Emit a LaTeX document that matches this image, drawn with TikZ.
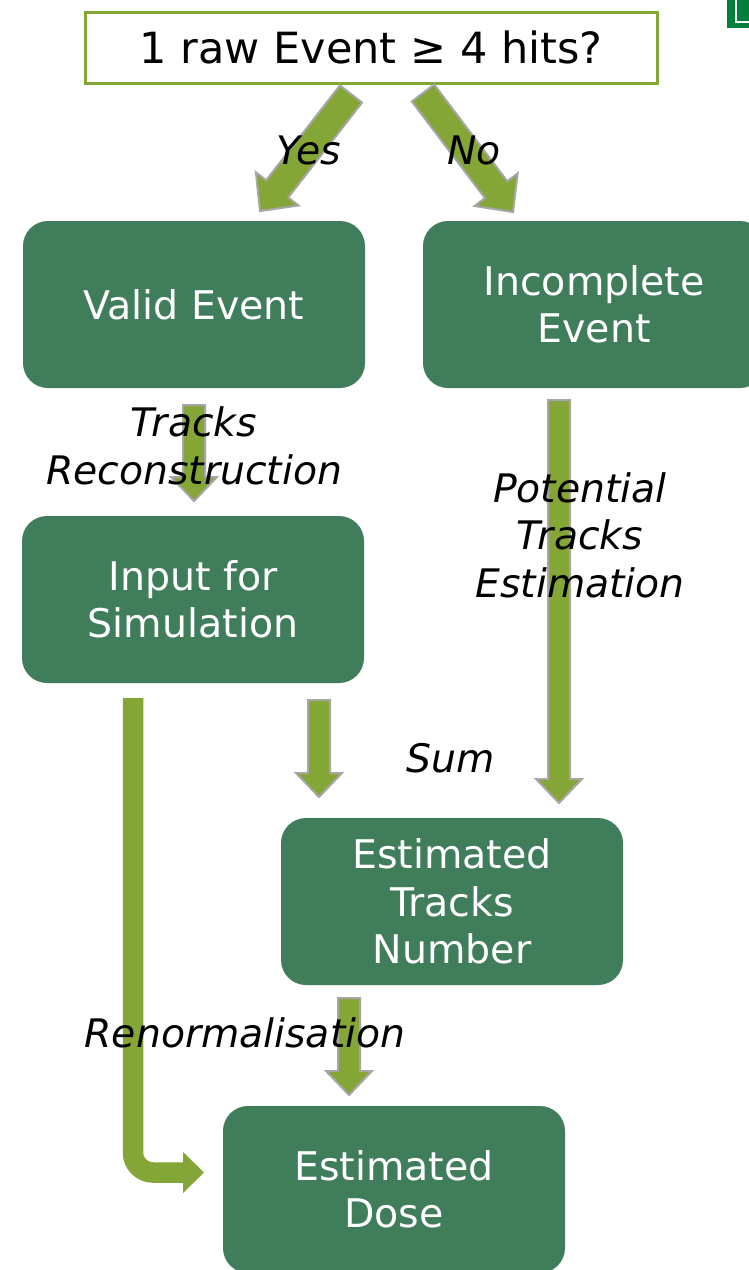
\documentclass[tikz,border=0pt]{standalone}
\usepackage{fontspec}
\setmainfont{DejaVu Sans}
\usetikzlibrary{calc}
\definecolor{boxgreen}{RGB}{64,125,90}
\definecolor{olive}{RGB}{132,166,55}
\definecolor{arrowgray}{RGB}{166,166,166}
\definecolor{logogreen}{RGB}{0,128,60}
\tikzset{
  box/.style={fill=boxgreen, rounded corners=25pt, minimum width=342pt, minimum height=167pt,
    text=white, align=center, inner sep=0pt, font=\fontsize{39.5}{47.5}\selectfont},
  topbox/.style={fill=white, draw=olive, line width=3pt, minimum width=572pt, minimum height=71pt,
    inner sep=0pt, font=\fontsize{43}{50}\selectfont},
  lbl/.style={align=center, inner sep=0pt, font=\fontsize{39.3}{47.5}\selectfont\itshape},
  blk/.style={fill=olive, draw=arrowgray, line width=2pt, line join=miter},
}
% block arrow from #1 to #2: shaft half width #3, head half width #4, head length #5
\newcommand{\barrow}[5]{%
  \coordinate (hb) at ($(#2)!#5!(#1)$);
  \draw[blk] ($(#1)!#3!90:(#2)$) -- ($(hb)!#3!-90:(#1)$) -- ($(hb)!#4!-90:(#1)$) -- (#2)
     -- ($(hb)!#4!90:(#1)$) -- ($(hb)!#3!90:(#1)$) -- ($(#1)!#3!-90:(#2)$) -- cycle;
}
\begin{document}
\begin{tikzpicture}[x=1pt,y=1pt]
\clip (0,0) rectangle (749,-1270);
\fill[white] (0,0) rectangle (749,-1270);

% logo fragment
\fill[logogreen] (727,0) rectangle (749,-28);
\draw[white, line width=1.5pt] (736,0) -- (736,-22) -- (749,-22);

% nodes
\node[topbox] (q) at (371,-47.5) {1 raw Event ≥ 4 hits?};
\node[box] (valid) at (194,-304.5) {Valid Event};
\node[box] (incomp) at (594,-304.5) {Incomplete\\Event};
\node[box] (input) at (193,-599.5) {Input for\\Simulation};
\node[box] (tracks) at (452,-901.5) {Estimated\\Tracks\\Number};
\node[box] (dose) at (394,-1189.5) {Estimated\\Dose};

% arrow end points
\coordinate (yesS) at (351,-94);
\coordinate (yesE) at (260,-211);
\coordinate (noS) at (423,-93);
\coordinate (noE) at (513,-212);
\coordinate (trS) at (194,-405);
\coordinate (trE) at (194,-501);
\coordinate (ptS) at (559,-400);
\coordinate (ptE) at (559,-803);
\coordinate (sumS) at (319,-700);
\coordinate (sumE) at (319,-797);
\coordinate (dS) at (349,-998);
\coordinate (dE) at (349,-1095);
\coordinate (rnS) at (133,-698);
\coordinate (rnE) at (204,-1172.5);

% block arrows
\barrow{yesS}{yesE}{14pt}{27pt}{28pt}
\barrow{noS}{noE}{14pt}{27pt}{28pt}
\barrow{trS}{trE}{11pt}{23pt}{24pt}
\barrow{ptS}{ptE}{11pt}{23pt}{24pt}
\barrow{sumS}{sumE}{11pt}{23pt}{24pt}
\barrow{dS}{dE}{11pt}{23pt}{24pt}

% bent arrow (renormalisation)
\draw[olive, line width=20.5pt, rounded corners=20pt] (rnS) |- ($(rnE)+(-20,0)$);
\fill[olive] ($(rnE)+(-21,20.5)$) -- (rnE) -- ($(rnE)+(-21,-20.5)$) -- cycle;

% labels
\node[lbl] (yes) at (309,-150) {Yes};
\node[lbl] (no) at (474,-150) {No};
\node[lbl] (trl) at (194,-446) {Tracks\\Reconstruction};
\node[lbl] (ptl) at (580,-535) {Potential\\Tracks\\Estimation};
\node[lbl] (suml) at (451,-758) {Sum};
\node[lbl] (rnl) at (245,-1033) {Renormalisation};
\end{tikzpicture}
\end{document}
